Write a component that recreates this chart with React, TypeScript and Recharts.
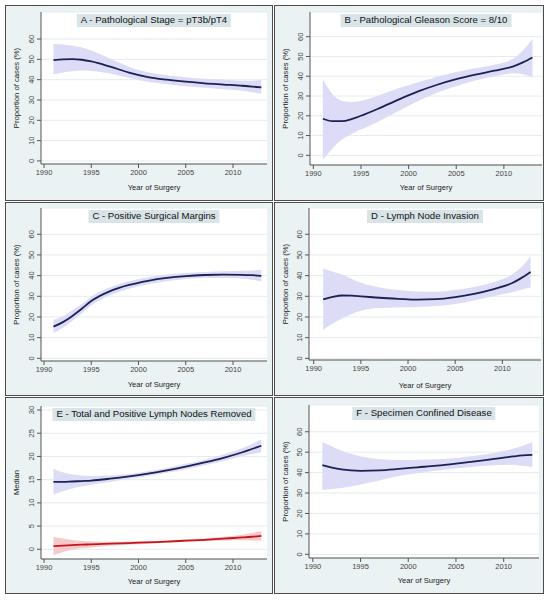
import React from 'react';
import { ComposedChart, Area, Line, XAxis, YAxis, CartesianGrid } from 'recharts';

const years = [1991, 1992, 1993, 1994, 1995, 1997, 1999, 2001, 2003, 2005, 2007, 2009, 2011, 2012, 2013];
const yearTicks = [1990, 1995, 2000, 2005, 2010];
const percentTicks = [0, 10, 20, 30, 40, 50, 60];
const medianTicks = [0, 5, 10, 15, 20, 25, 30];

// A - Pathological Stage = pT3b/pT4
const stageFit = [49.6, 50, 50.1, 49.8, 49, 46.4, 43.5, 41.3, 40, 39, 38.2, 37.6, 37, 36.6, 36.2];
const stageLo = [42.5, 43.5, 44.2, 44.5, 44.3, 43, 40.8, 39, 37.8, 36.8, 36, 35.3, 34.5, 33.8, 33];
const stageHi = [57.5, 57.3, 56.7, 55.8, 54.3, 50.3, 46.4, 43.6, 42.2, 41.2, 40.4, 39.9, 39.5, 39.5, 39.8];

// B - Pathological Gleason Score = 8/10
const gleasonFit = [18.5, 17.3, 17.3, 18.3, 20, 24, 28.3, 32.3, 35.7, 38.5, 40.8, 42.8, 45, 47, 49.5];
const gleasonLo = [-2.2, 3.5, 8, 10.8, 13, 17.5, 22.5, 27.5, 31.7, 35, 37.8, 40, 41.5, 41, 39.5];
const gleasonHi = [38.5, 31, 27.5, 27, 27.5, 30.5, 34, 37, 39.8, 42.2, 44, 45.8, 49, 53, 59];

// C - Positive Surgical Margins
const marginFit = [15.3, 17.5, 20.5, 24, 27.7, 32.5, 35.5, 37.5, 38.9, 39.8, 40.3, 40.5, 40.4, 40.2, 39.9];
const marginLo = [12.3, 14.8, 18, 21.8, 25.6, 30.5, 33.7, 35.8, 37.3, 38.3, 38.8, 38.9, 38.6, 38, 37.2];
const marginHi = [18.5, 20.3, 23.2, 26.3, 29.8, 34.4, 37.3, 39.2, 40.5, 41.3, 41.8, 42.1, 42.3, 42.5, 42.8];

// D - Lymph Node Invasion
const lniFit = [28.5, 29.7, 30.4, 30.3, 30, 29.3, 28.8, 28.4, 28.6, 29.6, 31.2, 33.4, 36.3, 38.8, 41.8];
const lniLo = [13.7, 16.8, 19.3, 21.5, 23, 24.3, 24.6, 24.8, 25.3, 26.3, 28, 30, 32, 33.2, 34.3];
const lniHi = [43.3, 42, 40.5, 38.5, 36.5, 34.3, 33, 32.3, 32.2, 33, 34.5, 36.8, 40.5, 44, 49.3];

// E - Total and Positive Lymph Nodes Removed
const totalFit = [14.5, 14.5, 14.6, 14.7, 14.8, 15.2, 15.7, 16.3, 17, 17.8, 18.7, 19.7, 20.9, 21.6, 22.3];
const totalLo = [11.8, 12.5, 13.1, 13.5, 13.9, 14.5, 15.2, 15.8, 16.5, 17.2, 18.1, 19, 20.1, 20.5, 20.9];
const totalHi = [17.3, 16.6, 16.1, 15.9, 15.8, 15.9, 16.2, 16.8, 17.5, 18.4, 19.3, 20.4, 21.8, 22.7, 23.7];
const positiveFit = [0.7, 0.8, 0.9, 1.0, 1.05, 1.2, 1.35, 1.5, 1.65, 1.85, 2.05, 2.3, 2.55, 2.7, 2.9];
const positiveLo = [-1.3, -0.6, -0.1, 0.2, 0.4, 0.75, 1.0, 1.2, 1.4, 1.6, 1.75, 1.9, 1.95, 1.9, 1.85];
const positiveHi = [2.7, 2.3, 2.0, 1.8, 1.7, 1.65, 1.7, 1.8, 1.9, 2.1, 2.35, 2.7, 3.15, 3.5, 3.95];

// F - Specimen Confined Disease
const confinedFit = [43.7, 42.5, 41.6, 41.1, 40.9, 41.1, 41.8, 42.6, 43.4, 44.4, 45.5, 46.7, 47.9, 48.4, 48.7];
const confinedLo = [31.5, 32, 32.5, 33.2, 34.2, 36.2, 38.3, 39.8, 41, 42, 43, 43.6, 43.8, 43.3, 42.8];
const confinedHi = [55, 52.8, 50.7, 49.2, 48, 46.6, 46.2, 46.3, 46.6, 47.2, 48.2, 49.6, 51.7, 53.2, 55];

const FONT = '"Liberation Sans", Arial, Helvetica, sans-serif';
const NAVY = '#1b2152';
const BAND = '#dcdcf7';
const RED = '#c4161c';
const RED_BAND = '#f6caca';

function rows(fit: number[], lo: number[], hi: number[], fit2?: number[], lo2?: number[], hi2?: number[]) {
  return years.map((year, i) => ({
    year,
    fit: fit[i],
    band: [lo[i], hi[i]],
    ...(fit2 ? { fit2: fit2[i], band2: [lo2![i], hi2![i]] } : {}),
  }));
}

const YTick = (props: any) => {
  const { x, y, payload } = props;
  return (
    <text
      transform={`translate(${x - 3.5},${y}) rotate(-90)`}
      textAnchor="middle"
      dominantBaseline="central"
      fontSize={7.5}
      fontFamily={FONT}
      fill="#444"
    >
      {payload.value}
    </text>
  );
};

const XTick = (props: any) => {
  const { x, y, payload } = props;
  return (
    <text x={x} y={y + 2.5} textAnchor="middle" dominantBaseline="central" fontSize={7.5} fontFamily={FONT} fill="#444">
      {payload.value}
    </text>
  );
};

type Cfg = {
  left: number; top: number; width: number; height: number;
  plot: { l: number; t: number; r: number; b: number };
  xDomain: [number, number]; yDomain: [number, number];
  yTicks: number[]; yTitle: string; title: string; xTitleOffset: number;
  data: any[]; two?: boolean;
};

const panels: Cfg[] = [
  { left: 5, top: 5, width: 268, height: 196, plot: { l: 36, t: 7, r: 262, b: 159 },
    xDomain: [1989.68, 2013.6], yDomain: [-1.5, 73.3], yTicks: percentTicks,
    yTitle: 'Proportion of cases (%)', title: 'A - Pathological Stage = pT3b/pT4', xTitleOffset: 11.3,
    data: rows(stageFit, stageLo, stageHi) },
  { left: 274, top: 5, width: 270, height: 196, plot: { l: 36, t: 7, r: 268, b: 160 },
    xDomain: [1989.65, 2014.0], yDomain: [-4.9, 72.5], yTicks: percentTicks,
    yTitle: 'Proportion of cases (%)', title: 'B - Pathological Gleason Score = 8/10', xTitleOffset: 11,
    data: rows(gleasonFit, gleasonLo, gleasonHi) },
  { left: 5, top: 202, width: 268, height: 194, plot: { l: 36, t: 6, r: 262, b: 159 },
    xDomain: [1989.68, 2013.6], yDomain: [-1.3, 72.7], yTicks: percentTicks,
    yTitle: 'Proportion of cases (%)', title: 'C - Positive Surgical Margins', xTitleOffset: 9,
    data: rows(marginFit, marginLo, marginHi) },
  { left: 274, top: 202, width: 270, height: 194, plot: { l: 35, t: 6, r: 267, b: 158 },
    xDomain: [1989.5, 2014.1], yDomain: [-0.8, 72.7], yTicks: percentTicks,
    yTitle: 'Proportion of cases (%)', title: 'D - Lymph Node Invasion', xTitleOffset: 8.3,
    data: rows(lniFit, lniLo, lniHi) },
  { left: 5, top: 397, width: 268, height: 197, plot: { l: 36, t: 9, r: 262, b: 162 },
    xDomain: [1989.68, 2013.6], yDomain: [-2.09, 30.86], yTicks: medianTicks,
    yTitle: 'Median', title: 'E - Total and Positive Lymph Nodes Removed', xTitleOffset: 9.6,
    data: rows(totalFit, totalLo, totalHi, positiveFit, positiveLo, positiveHi), two: true },
  { left: 274, top: 397, width: 270, height: 197, plot: { l: 35, t: 8, r: 265, b: 161 },
    xDomain: [1989.6, 2013.7], yDomain: [-1.8, 73.1], yTicks: percentTicks,
    yTitle: 'Proportion of cases (%)', title: 'F - Specimen Confined Disease', xTitleOffset: 11,
    data: rows(confinedFit, confinedLo, confinedHi) },
];

function Panel({ cfg }: { cfg: Cfg }) {
  const { left, top, width, height, plot } = cfg;
  return (
    <div
      style={{
        position: 'absolute', left, top, width, height, background: '#eaf2f3',
        outline: '1px solid #4d4d4d', outlineOffset: -1,
      }}
    >
      <ComposedChart
        width={width}
        height={height}
        data={cfg.data}
        margin={{ top: plot.t, right: width - plot.r, bottom: 0, left: 0 }}
      >
        <CartesianGrid vertical={false} stroke="#e4ecee" fill="#ffffff" />
        <XAxis
          type="number"
          dataKey="year"
          domain={cfg.xDomain}
          ticks={yearTicks}
          allowDataOverflow
          interval={0}
          height={height - plot.b}
          tick={<XTick />}
          tickSize={4}
          tickMargin={2}
          stroke="#555"
          label={{ value: 'Year of Surgery', position: 'insideBottom', offset: cfg.xTitleOffset, fontSize: 7.6, fill: '#222', fontFamily: FONT }}
        />
        <YAxis
          type="number"
          domain={cfg.yDomain}
          ticks={cfg.yTicks}
          allowDataOverflow
          interval={0}
          width={plot.l}
          tick={<YTick />}
          tickSize={4}
          tickMargin={2}
          stroke="#555"
          label={{ value: cfg.yTitle, angle: -90, position: 'insideLeft', offset: 11, fontSize: 7.7, fill: '#222', fontFamily: FONT, style: { textAnchor: 'middle' } }}
        />
        <Area type="monotone" dataKey="band" stroke="none" fill={BAND} fillOpacity={1} isAnimationActive={false} />
        {cfg.two ? (
          <Area type="monotone" dataKey="band2" stroke="none" fill={RED_BAND} fillOpacity={1} isAnimationActive={false} />
        ) : null}
        <Line type="monotone" dataKey="fit" stroke={NAVY} strokeWidth={1.8} dot={false} isAnimationActive={false} />
        {cfg.two ? (
          <Line type="monotone" dataKey="fit2" stroke={RED} strokeWidth={1.8} dot={false} isAnimationActive={false} />
        ) : null}
      </ComposedChart>
      <div
        style={{
          position: 'absolute',
          top: plot.t + 2,
          left: (plot.l + plot.r) / 2,
          transform: 'translateX(-50%)',
          background: '#d8e4e8',
          padding: '0 4px',
          fontSize: 9.6,
          lineHeight: '12.5px',
          fontFamily: FONT,
          color: '#111',
          whiteSpace: 'nowrap',
        }}
      >
        {cfg.title}
      </div>
    </div>
  );
}

export default function App() {
  return (
    <div style={{ position: 'absolute', left: 0, top: 0, width: 548, height: 600, background: '#ffffff' }}>
      {panels.map((p) => (
        <Panel key={p.title} cfg={p} />
      ))}
    </div>
  );
}
